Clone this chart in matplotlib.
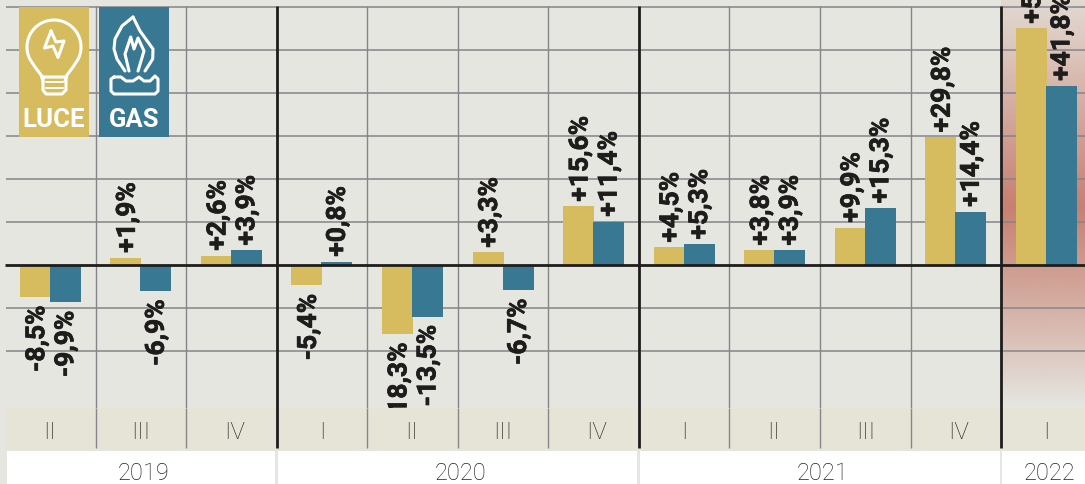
import numpy as np
import matplotlib
matplotlib.use('Agg')
import matplotlib.pyplot as plt
import matplotlib.patheffects as pe
from matplotlib.patches import Rectangle

# quarters, 2019 II -> 2022 I
quarters = ['II', 'III', 'IV', 'I', 'II', 'III', 'IV', 'I', 'II', 'III', 'IV', 'I']
years = ['2019', '2020', '2021', '2022']
year_spans = [(0, 3), (3, 7), (7, 11), (11, 12)]

# bar heights as drawn (they do not always agree with the printed numbers)
luce = [-7.4, 1.8, 2.3, -4.65, -16.0, 3.0, 13.7, 4.2, 3.5, 8.8, 29.8, 55.1]
gas = [-8.6, -6.0, 3.5, 0.9, -11.9, -5.8, 10.2, 4.9, 3.5, 13.3, 12.5, 41.8]
luce_labels = ['-8,5%', '+1,9%', '+2,6%', '-5,4%', '-18,3%', '+3,3%', '+15,6%', '+4,5%', '+3,8%', '+9,9%', '+29,8%', '+55%']
gas_labels = ['-9,9%', '-6,9%', '+3,9%', '+0,8%', '-13,5%', '-6,7%', '+11,4%', '+5,3%', '+3,9%', '+15,3%', '+14,4%', '+41,8%']

BG = '#e5e6e0'
BAND = '#e5e4d6'
YEL = '#d6bc5e'
BLU = '#397893'
GRID = '#85858a'
DARK = '#1f1d1c'
TXT = '#222222'

W, H = 1085, 485
PX = 4.3  # pixels per percentage point
ZERO = 266.4
x0 = 5
qw = 90.55

fig = plt.figure(figsize=(W / 100, H / 100), dpi=100, facecolor=BG)
ax = fig.add_axes([0, 0, 1, 1])
ax.set_facecolor(BG)
ax.axis('off')

def yv(py):
    return (ZERO - py) / PX

def xv(px):
    return (px - x0) / qw

# pink gradient behind 2022, strongest a bit above the zero line
ys = np.linspace(0, 408, 300)
alphas = np.interp(ys, [0, 60, 207, 270, 330, 408], [.12, .35, 1, .72, .42, 0])
img = np.ones((300, 1, 4))
img[..., :3] = matplotlib.colors.to_rgb('#c77f70')
img[..., 3] = alphas[:, None]
ax.imshow(img, extent=[11, xv(W), yv(408), yv(0)], aspect='auto', zorder=1, origin='upper')
ax.set_xlim(xv(0), xv(W))
ax.set_ylim(yv(H), yv(0))

# grid
for g in range(-20, 61, 10):
    if g != 0:
        ax.plot([xv(6), xv(W)], [g, g], color=GRID, lw=1.1, zorder=2, solid_capstyle='butt')
for q in range(1, 12):
    if q in (3, 7, 11):
        ax.plot([q, q], [yv(7), yv(449)], color=DARK, lw=2, zorder=6, solid_capstyle='butt')
    else:
        ax.plot([q, q], [yv(7), yv(409)], color=GRID, lw=1, zorder=2, solid_capstyle='butt')
        ax.plot([q, q], [yv(409), yv(449)], color=GRID, lw=1, zorder=4.7, solid_capstyle='butt')

# bars
xs = np.arange(12) + 0.5
off = 15 / qw
bw = 31 / qw
ax.bar(xs - off, luce, bw, color=YEL, zorder=3)
ax.bar(xs + off, gas, bw, color=BLU, zorder=3)
ax.plot([xv(5), xv(W)], [0, 0], color=DARK, lw=2, zorder=5, solid_capstyle='butt')

# value labels
heavy = [pe.withStroke(linewidth=0.5, foreground=DARK)]
lab = dict(rotation=90, fontsize=19, fontweight='bold', family='Roboto', color=DARK, zorder=4,
           ha='center', annotation_clip=False, textcoords='offset points', path_effects=heavy)
for i in range(12):
    for vals, labs, d in ((luce, luce_labels, -off + 2 / qw), (gas, gas_labels, off + 1 / qw)):
        v = vals[i]
        ax.annotate(labs[i], (xs[i] + d, v), xytext=(0, 3.5 if v > 0 else -6),
                    va='bottom' if v > 0 else 'top', **lab)

# quarter band + year strip
ax.add_patch(Rectangle((xv(6), yv(451)), xv(W) - xv(6), yv(409) - yv(451), color=BAND, zorder=4.5, lw=0))
nudge = {'IV': 3, 'II': -1}
for i, q in enumerate(quarters):
    ax.text(xs[i] + nudge.get(q, 0) / qw, yv(432.5), q, ha='center', va='center', fontsize=17.5,
            family='Roboto', fontweight='light', color=TXT, zorder=7)
for y, (a, b) in zip(years, year_spans):
    l = xv(7) if a == 0 else a + 0.015
    r = min(b - 0.015, xv(W))
    ax.add_patch(Rectangle((l, yv(H + 2)), r - l, yv(452) - yv(H + 2), color='white', zorder=4.5, lw=0))
    ax.text((a + b) / 2 + 3 / qw if a else 1.5 + 3 / qw, yv(473.5), y, ha='center', va='center', fontsize=17,
            family='Roboto', fontweight='light', color=TXT, zorder=7)

# legend tiles, given in pixels
def tile(px, color, label):
    ax.add_patch(Rectangle((xv(px), yv(137.5)), 70 / qw, yv(8) - yv(137.5), color=color, lw=0, zorder=6))
    ax.text(xv(px + 35), yv(120), label, color='white', fontsize=18.5, fontweight='bold', family='Roboto',
            ha='center', va='center', zorder=7)

tile(19, YEL, 'LUCE')
tile(99, BLU, 'GAS')

def curve(pts, lw=2.2):
    arr = np.array(pts, float)
    ax.plot(xv(arr[:, 0]), yv(arr[:, 1]), color='white', lw=lw, zorder=7,
            solid_capstyle='round', solid_joinstyle='round')

# bulb
t = np.radians(np.linspace(-28, 208, 60))
curve(np.column_stack([54 + 27 * np.cos(t), 48 - 27 * np.sin(t)]))
curve([(30.2, 60.7), (35, 68), (41, 76), (43, 82)])
curve([(77.8, 60.7), (73, 68), (67, 76), (65, 82)])
curve([(43, 78), (43, 91), (46, 95), (62, 95), (66, 91), (66, 78), (43, 78)])
curve([(46, 83), (63, 83)], lw=1.4)
curve([(46, 88.5), (63, 88.5)], lw=1.4)
curve([(51, 32), (44.5, 49), (53, 47), (58, 58.5), (64, 42), (56, 43), (51, 32)])
# flame
curve([(133, 18), (122, 27), (115, 40), (114, 50), (117, 60), (125, 72)])
curve([(133, 18), (140, 32), (153, 50), (152.7, 60), (145, 72)])
curve([(129, 72), (125, 55), (130.7, 38), (134, 50), (138, 39), (144, 52), (138, 72)])
curve([(114, 78), (111, 80), (111, 92), (114, 95), (155, 95), (158, 92), (158, 80), (155, 77),
       (150, 82), (144, 82), (139, 78), (133, 82), (126, 82), (121, 78), (114, 78)])

fig.savefig('out.png', dpi=100, facecolor=BG)
